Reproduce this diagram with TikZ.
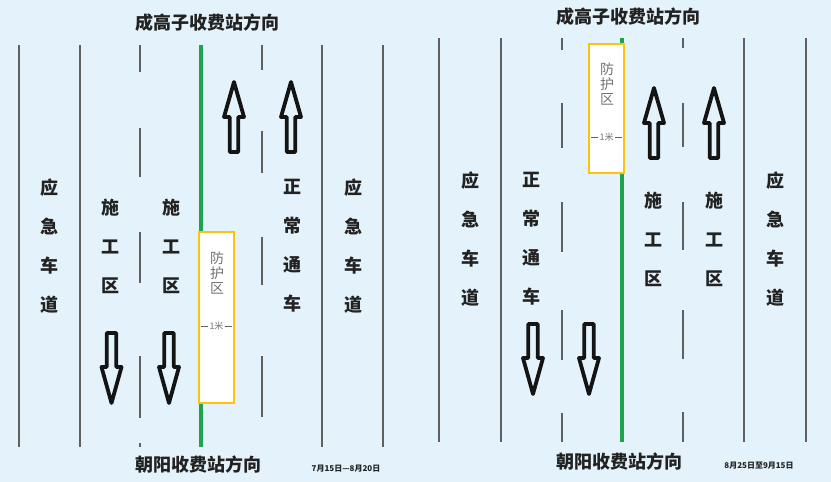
\documentclass[tikz,border=0pt]{standalone}
\usepackage{fontspec}
\newfontfamily\cjk{Noto Sans CJK SC}
\definecolor{bg}{HTML}{E4F3FB}
\definecolor{lanegray}{HTML}{606060}
\definecolor{sepgreen}{HTML}{1FA34F}
\definecolor{boxyellow}{HTML}{FFC20E}
\definecolor{txt}{HTML}{222222}
\newcommand\myup[2]{%
  \draw[blockarrow] (#1,#2) -- (#1+10,#2+35) -- (#1+4.3,#2+35) -- (#1+4.3,#2+70) -- (#1-4.3,#2+70) -- (#1-4.3,#2+35) -- (#1-10,#2+35) -- cycle;}
\newcommand\mydown[2]{%
  \draw[blockarrow] (#1,#2) -- (#1+10,#2-36) -- (#1+4.8,#2-36) -- (#1+4.8,#2-70) -- (#1-4.8,#2-70) -- (#1-4.8,#2-36) -- (#1-10,#2-36) -- cycle;}
\begin{document}
\begin{tikzpicture}[x=1pt,y=-1pt,
  lane/.style={draw=lanegray,line width=1.1pt},
  green/.style={draw=sepgreen,line width=4pt},
  blockarrow/.style={draw=black!92,line width=3.8pt,line join=round},
  title/.style={font=\cjk\bfseries\fontsize{18}{20}\selectfont,text=txt,inner sep=0pt},
  lanetxt/.style={font=\cjk\bfseries\fontsize{18}{39}\selectfont,text=txt,align=center,inner sep=0pt},
  protbox/.style={draw=boxyellow,fill=white,line width=2pt},
  prottxt/.style={font=\cjk\fontsize{14}{15}\selectfont,text=black!55,align=center,inner sep=0pt},
  metertxt/.style={font=\cjk\fontsize{9}{10}\selectfont,text=black!55,inner sep=1pt},
  datetxt/.style={font=\cjk\bfseries\fontsize{8}{9}\selectfont,text=txt,inner sep=0pt}]
\fill[bg] (0,0) rectangle (831,482);
\useasboundingbox (0,0) rectangle (831,482);

% ================= LEFT PANEL =================
\node[title] (t1) at (207,23) {成高子收费站方向};
\node[title] (b1) at (198,465) {朝阳收费站方向};
\node[datetxt] (d1) at (346,469) {7月15日—8月20日};

\foreach \x in {19,80,322,383} \draw[lane] (\x,45) -- (\x,447);
\foreach \a/\b in {45/72,128/177,232/283,356/418,443/447} \draw[lane] (140,\a) -- (140,\b);
\foreach \a/\b in {45/70,131/173,237/285,356/417} \draw[lane] (262,\a) -- (262,\b);

\draw[green] (201,45) -- (201,447);
\node[protbox,minimum width=35pt,minimum height=171pt,inner sep=0pt] (p1) at (216,317.5) {};
\node[prottxt] (p1t) at (217,273) {防\\护\\区};
\node[metertxt] (m1) at (216.5,326) {1米};
\draw[lanegray,line width=0.8pt] (201,326) -- (m1.west);
\draw[lanegray,line width=0.8pt] (m1.east) -- (232,326);

\node[lanetxt] (l1a) at (49,246) {应\\急\\车\\道};
\node[lanetxt] (l1b) at (110,246) {施\\工\\区};
\node[lanetxt] (l1c) at (171,246) {施\\工\\区};
\node[lanetxt] (l1d) at (292,246) {正\\常\\通\\车};
\node[lanetxt] (l1e) at (353,246) {应\\急\\车\\道};

\myup{234}{82}
\myup{291}{82}
\mydown{111.5}{403}
\mydown{169}{403}

% ================= RIGHT PANEL =================
\node[title] (t2) at (628,17) {成高子收费站方向};
\node[title] (b2) at (619,462) {朝阳收费站方向};
\node[datetxt] (d2) at (759,466) {8月25日至9月15日};

\foreach \x in {439,501,744,806} \draw[lane] (\x,38) -- (\x,442);
\foreach \a/\b in {38/50,103/148,202/252,310/360,413/442} \draw[lane] (562,\a) -- (562,\b);
\foreach \a/\b in {38/48,103/147,202/250,310/359,412/442} \draw[lane] (683,\a) -- (683,\b);

\draw[green] (621.5,38) -- (621.5,442);
\node[protbox,minimum width=35pt,minimum height=129pt,inner sep=0pt] (p2) at (606.5,108) {};
\node[prottxt] (p2t) at (607,84) {防\\护\\区};
\node[metertxt] (m2) at (606.5,137) {1米};
\draw[lanegray,line width=0.8pt] (591,137) -- (m2.west);
\draw[lanegray,line width=0.8pt] (m2.east) -- (622,137);

\node[lanetxt] (l2a) at (470,239) {应\\急\\车\\道};
\node[lanetxt] (l2b) at (531,239) {正\\常\\通\\车};
\node[lanetxt] (l2c) at (653,239) {施\\工\\区};
\node[lanetxt] (l2d) at (714,239) {施\\工\\区};
\node[lanetxt] (l2e) at (775,239) {应\\急\\车\\道};

\myup{654}{88}
\myup{714}{88}
\mydown{533}{394}
\mydown{589}{394}
\end{tikzpicture}
\end{document}
